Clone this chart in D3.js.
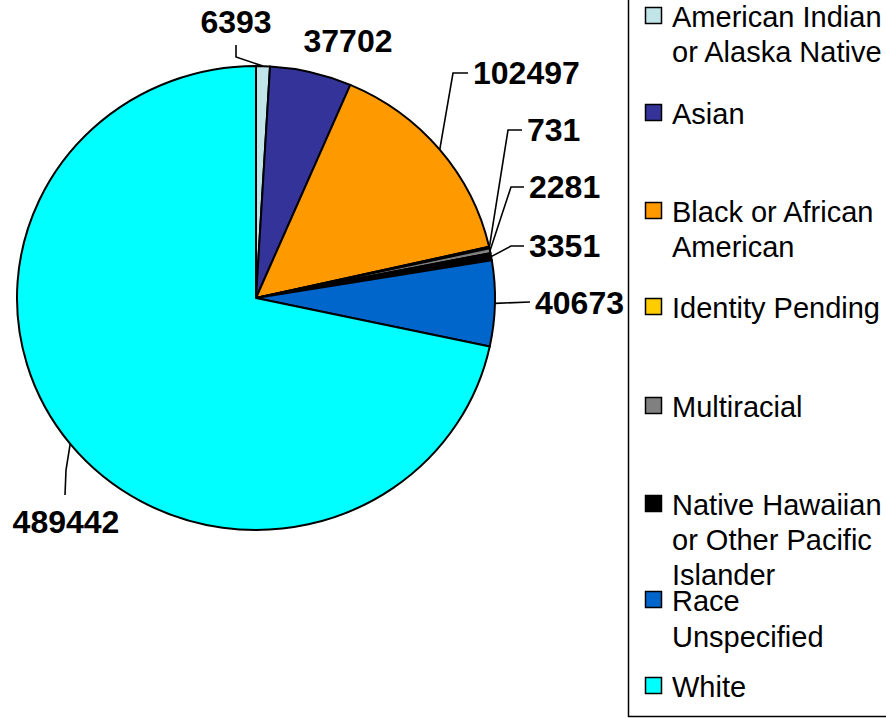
<!DOCTYPE html>
<html>
<head>
<meta charset="utf-8">
<script src="https://cdn.jsdelivr.net/npm/d3@7"></script>
<style>
  html, body { margin: 0; padding: 0; background: #fff; }
  svg { display: block; }
</style>
</head>
<body>
<svg id="chart" width="886" height="718"></svg>
<script>
// ---- data ----
const categories = [
  "American Indian or Alaska Native",
  "Asian",
  "Black or African American",
  "Identity Pending",
  "Multiracial",
  "Native Hawaiian or Other Pacific Islander",
  "Race Unspecified",
  "White"
];
const values = [6393, 37702, 102497, 731, 2281, 3351, 40673, 489442];
const colors = ["#C0E4E8", "#333399", "#FF9900", "#FFCC00", "#808080", "#000000", "#0066CC", "#00FFFF"];
const legendLines = [
  ["American Indian", "or Alaska Native"],
  ["Asian"],
  ["Black or African", "American"],
  ["Identity Pending"],
  ["Multiracial"],
  ["Native Hawaiian", "or Other Pacific", "Islander"],
  ["Race", "Unspecified"],
  ["White"]
];

// ---- layout (positions only) ----
const cx = 256, cy = 298, rx = 239, ry = 232;
const labelLayout = [
  { x: 236, y: 33, anchor: "middle", elbow: [[236, 45], [236, 57]] },
  { x: 348, y: 52, anchor: "middle", elbow: null },
  { x: 473, y: 84, anchor: "start", elbow: [[468, 73], [453, 73]] },
  { x: 527, y: 141, anchor: "start", elbow: [[522, 130], [508, 130]] },
  { x: 529, y: 198, anchor: "start", elbow: [[524, 187], [511, 187]] },
  { x: 529, y: 257, anchor: "start", elbow: [[524, 246], [511, 246]] },
  { x: 535, y: 314, anchor: "start", elbow: [[530, 302]] },
  { x: 66, y: 533, anchor: "middle", elbow: [[65, 495], [66, 470]] }
];
const legendBaselines = [27, 124, 222, 318, 417, 515, 611, 697];
const legendLineH = 35;
const legendLineHs = [35, 35, 35, 35, 35, 35, 36, 35];

const svg = d3.select("#chart");

const pie = d3.pie().sort(null).value(d => d)(values);
const arc = d3.arc().innerRadius(0).outerRadius(ry);

const g = svg.append("g").attr("transform", `translate(${cx},${cy}) scale(${rx / ry},1)`);
g.selectAll("path.slice")
  .data(pie)
  .join("path")
  .attr("class", "slice")
  .attr("d", arc)
  .attr("fill", (d, i) => colors[i])
  .attr("stroke", "#000")
  .attr("stroke-width", 2)
  .attr("stroke-linejoin", "round")
  .attr("vector-effect", "non-scaling-stroke");

// leader lines
const line = d3.line();
pie.forEach((d, i) => {
  const L = labelLayout[i];
  if (!L.elbow) return;
  const a = (d.startAngle + d.endAngle) / 2;
  const ex = cx + rx * Math.sin(a);
  const ey = cy - ry * Math.cos(a);
  const pts = L.elbow.concat([[ex, ey]]);
  svg.append("path")
    .attr("d", line(pts))
    .attr("fill", "none")
    .attr("stroke", "#000")
    .attr("stroke-width", 1.6);
});

// value labels
svg.selectAll("text.val")
  .data(pie)
  .join("text")
  .attr("class", "val")
  .attr("x", (d, i) => labelLayout[i].x)
  .attr("y", (d, i) => labelLayout[i].y)
  .attr("text-anchor", (d, i) => labelLayout[i].anchor)
  .attr("font-family", "Liberation Sans, Arial, sans-serif")
  .attr("font-weight", "bold")
  .attr("font-size", 32)
  .attr("fill", "#000")
  .text(d => d.data);

// legend box
svg.append("rect")
  .attr("x", 628.5).attr("y", -10)
  .attr("width", 400).attr("height", 726.5)
  .attr("fill", "#fff")
  .attr("stroke", "#000")
  .attr("stroke-width", 1.5);

const lg = svg.selectAll("g.leg")
  .data(categories)
  .join("g")
  .attr("class", "leg");

lg.append("rect")
  .attr("x", 645.5)
  .attr("y", (d, i) => legendBaselines[i] - 19.5)
  .attr("width", 16)
  .attr("height", 16)
  .attr("fill", (d, i) => colors[i])
  .attr("stroke", "#000")
  .attr("stroke-width", 1.5);

lg.append("text")
  .attr("x", 672)
  .attr("y", (d, i) => legendBaselines[i])
  .attr("font-family", "Liberation Sans, Arial, sans-serif")
  .attr("font-size", 29)
  .attr("fill", "#000")
  .each(function (d, i) {
    const t = d3.select(this);
    legendLines[i].forEach((s, k) => {
      t.append("tspan")
        .attr("x", 672)
        .attr("dy", k === 0 ? 0 : legendLineHs[i])
        .text(s);
    });
  });
</script>
</body>
</html>
